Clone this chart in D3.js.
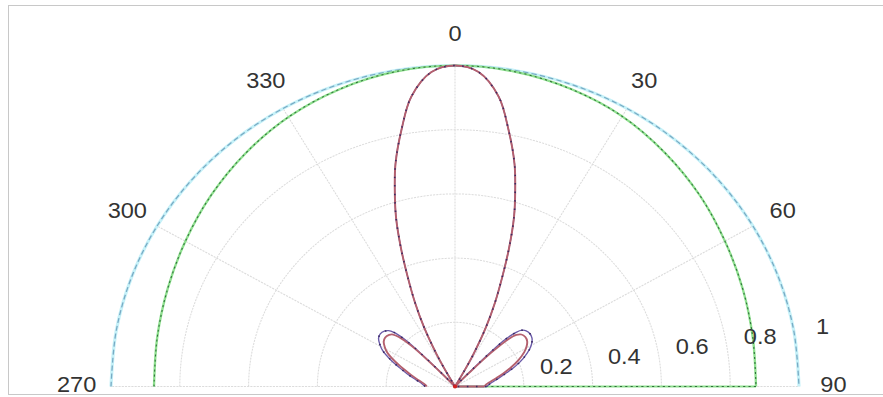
<!DOCTYPE html>
<html>
<head>
<meta charset="utf-8">
<script src="https://cdn.jsdelivr.net/npm/d3@7"></script>
<style>
  body { margin: 0; background: #fff; }
  text { font-family: "Liberation Sans", Arial, sans-serif; fill: #333; }
</style>
</head>
<body>
<div id="chart"></div>
<script>
// angles in degrees, clockwise from the top (0 = up)
const patternAngles = [-90, -86, -82, -78, -74, -70, -66, -62, -59, -56, -53, -50, -48, -46.5, -45, -44, -43, -42,
  -36, -30, -29, -28, -26, -24, -22, -20, -18, -16, -14, -11, -8, -4, 0,
  4, 8, 11, 14, 16, 18, 20, 22, 24, 26, 28, 29, 30, 36,
  42, 43, 44, 45, 46.5, 48, 50, 53, 56, 59, 62, 66, 70, 74, 78, 82, 86, 90, 90];

const blueR = [0.087, 0.094, 0.105, 0.123, 0.145, 0.172, 0.205, 0.238, 0.255, 0.268, 0.272, 0.268, 0.26, 0.245, 0.21, 0.15, 0.05, 0,
  0, 0, 0.06, 0.115, 0.205, 0.285, 0.365, 0.46, 0.555, 0.635, 0.715, 0.815, 0.912, 0.982, 1,
  0.982, 0.912, 0.815, 0.715, 0.635, 0.555, 0.46, 0.365, 0.285, 0.205, 0.115, 0.06, 0, 0,
  0, 0.05, 0.15, 0.21, 0.245, 0.262, 0.27, 0.273, 0.27, 0.26, 0.245, 0.218, 0.188, 0.157, 0.132, 0.113, 0.1, 0.092, 0];

const redR = [0.082, 0.088, 0.098, 0.114, 0.134, 0.159, 0.19, 0.222, 0.238, 0.25, 0.254, 0.25, 0.242, 0.222, 0.18, 0.11, 0.02, 0,
  0, 0, 0.06, 0.115, 0.205, 0.285, 0.365, 0.46, 0.555, 0.635, 0.715, 0.815, 0.912, 0.982, 1,
  0.982, 0.912, 0.815, 0.715, 0.635, 0.555, 0.46, 0.365, 0.285, 0.205, 0.115, 0.06, 0, 0,
  0, 0, 0.06, 0.15, 0.215, 0.24, 0.252, 0.256, 0.253, 0.243, 0.228, 0.202, 0.173, 0.145, 0.121, 0.103, 0.091, 0.085, 0];

const greenAngles = [-90, -80, -70, -60, -50, -40, -30, -20, -10, 0, 10, 20, 30, 40, 50, 60, 70, 80, 90, 90];
const greenR = [0.875, 0.879, 0.889, 0.905, 0.926, 0.948, 0.969, 0.985, 0.996, 1,
  0.996, 0.986, 0.972, 0.95, 0.928, 0.906, 0.89, 0.879, 0.875, 0];

const cyanAngles = [-90, -80, -70, -60, -50, -40, -30, -20, -10, 0, 10, 20, 30, 40, 50, 60, 70, 80, 90];
const cyanR = [1, 1, 1, 1, 1, 1, 1, 1, 1, 1, 1, 1, 1, 1, 1, 1, 1, 1, 1];

const rTicks = [0.2, 0.4, 0.6, 0.8, 1];
const rTickLabels = ["0.2", "0.4", "0.6", "0.8", "1"];
const spokeAngles = [-90, -60, -30, 0, 30, 60, 90];
const angleLabels = ["270", "300", "330", "0", "30", "60", "90"];

const width = 883, height = 397;
const cx = 455, cy = 386.5, R = 321, sx = 344 / 321;

const svg = d3.select("#chart").append("svg")
  .attr("width", width)
  .attr("height", height);

// frame
svg.append("rect")
  .attr("x", 8.5).attr("y", 5.5)
  .attr("width", 900).attr("height", 389)
  .attr("fill", "none").attr("stroke", "#c8c8c8");

const g = svg.append("g")
  .attr("transform", `translate(${cx},${cy}) scale(${sx},1)`);

const r = d3.scaleLinear().domain([0, 1]).range([0, R]);
const rad = d => d * Math.PI / 180;

const smooth = d3.lineRadial()
  .angle(d => rad(d[0]))
  .radius(d => r(d[1]))
  .curve(d3.curveCatmullRom.alpha(0.5));
const straight = d3.lineRadial()
  .angle(d => rad(d[0]))
  .radius(d => r(d[1]));

const zip = (as, rs) => as.map((a, i) => [a, rs[i]]);

// a trailing point on the same angle (drop back to the centre) is drawn straight
function seriesPath(as, rs) {
  const pts = zip(as, rs);
  const n = pts.length;
  if (n > 1 && pts[n - 1][0] === pts[n - 2][0]) {
    return smooth(pts.slice(0, n - 1)) + straight(pts.slice(n - 2));
  }
  return smooth(pts);
}

// grid arcs (upper half)
const halfTurn = d3.range(-90, 90.5, 1);
g.selectAll(".grid-arc")
  .data(rTicks)
  .join("path")
  .attr("class", "grid-arc")
  .attr("d", t => d3.lineRadial().angle(a => rad(a)).radius(r(t))(halfTurn))
  .attr("fill", "none")
  .attr("stroke", "#dcdcdc")
  .attr("stroke-width", 1)
  .attr("stroke-dasharray", t => t === 1 ? null : "2,1");

// spokes
g.selectAll(".spoke")
  .data(spokeAngles)
  .join("line")
  .attr("class", "spoke")
  .attr("x1", 0).attr("y1", 0)
  .attr("x2", a => r(1) * Math.sin(rad(a)))
  .attr("y2", a => -r(1) * Math.cos(rad(a)))
  .attr("stroke", "#dcdcdc")
  .attr("stroke-dasharray", "2,1");

// cyan series
g.append("path").attr("d", seriesPath(cyanAngles, cyanR))
  .attr("fill", "none").attr("stroke", "#c6f1f8").attr("stroke-width", 3);
g.append("path").attr("d", seriesPath(cyanAngles, cyanR))
  .attr("fill", "none").attr("stroke", "#78aac4").attr("stroke-width", 1.2)
  .attr("stroke-dasharray", "5,3");

// green series
g.append("path").attr("d", seriesPath(greenAngles, greenR))
  .attr("fill", "none").attr("stroke", "#8fe08f").attr("stroke-width", 2.2);
g.append("path").attr("d", seriesPath(greenAngles, greenR))
  .attr("fill", "none").attr("stroke", "#2f6f3a").attr("stroke-width", 1)
  .attr("stroke-dasharray", "2,3");

// blue and red patterns
g.append("path").attr("d", seriesPath(patternAngles, blueR))
  .attr("fill", "none").attr("stroke", "#6a5aa8").attr("stroke-width", 1.3);
g.append("path").attr("d", seriesPath(patternAngles, redR))
  .attr("fill", "none").attr("stroke", "#b4606e").attr("stroke-width", 1.8);
g.append("path").attr("d", seriesPath(patternAngles, blueR))
  .attr("fill", "none").attr("stroke", "#3a2a62").attr("stroke-width", 1.5)
  .attr("stroke-dasharray", "1.5,7");

// centre dot
g.append("circle").attr("r", 2).attr("fill", "#d02020");

// angle labels
g.selectAll(".alab")
  .data(spokeAngles)
  .join("text")
  .attr("class", "alab")
  .attr("x", a => r(1.1) * Math.sin(rad(a)))
  .attr("y", a => -r(1.1) * Math.cos(rad(a)) - (Math.abs(a) === 90 ? 2 : 0))
  .attr("text-anchor", "middle")
  .attr("dominant-baseline", "central")
  .attr("font-size", 22)
  .text((a, i) => angleLabels[i]);

// radius labels
g.selectAll(".rlab")
  .data(rTicks)
  .join("text")
  .attr("class", "rlab")
  .attr("x", t => r(t + 0.05) * Math.sin(rad(81)) + (t === 1 ? 4 : 0))
  .attr("y", t => -r(t + 0.05) * Math.cos(rad(81)))
  .attr("font-size", 22)
  .text((t, i) => rTickLabels[i]);
</script>
</body>
</html>
